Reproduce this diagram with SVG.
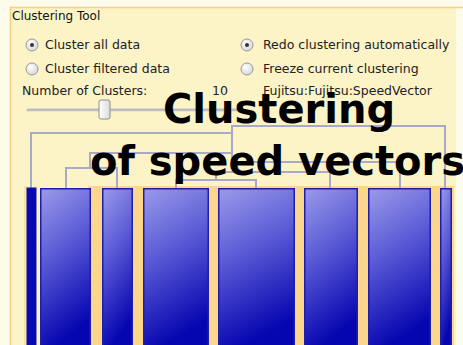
<svg xmlns="http://www.w3.org/2000/svg" width="463" height="345" viewBox="0 0 463 345">
  <defs>
    <linearGradient id="barGrad" x1="0" y1="0" x2="0.25" y2="1">
      <stop offset="0" stop-color="#9a9aea"/>
      <stop offset="0.45" stop-color="#5a5ad6"/>
      <stop offset="1" stop-color="#0606b0"/>
    </linearGradient>
    <radialGradient id="radioGrad" cx="0.4" cy="0.35" r="0.7">
      <stop offset="0" stop-color="#ffffff"/>
      <stop offset="1" stop-color="#d4d4d4"/>
    </radialGradient>
    <linearGradient id="thumbGrad" x1="0" y1="0" x2="1" y2="0">
      <stop offset="0" stop-color="#ffffff"/>
      <stop offset="1" stop-color="#dcdcdc"/>
    </linearGradient>
    <style>
      .ui { font-family: "DejaVu Sans", Verdana, sans-serif; font-size: 12.5px; fill: #222; }
      .title { font-family: "DejaVu Sans", Verdana, sans-serif; font-size: 12px; fill: #111; }
      .big { font-family: "DejaVu Sans", Verdana, sans-serif; font-size: 40px; font-weight: bold; fill: #000; }
      .radio { fill: url(#radioGrad); stroke: #9a9a9a; stroke-width: 1; }
      .dot { fill: #333; }
      .bar { fill: url(#barGrad); stroke: #1e1ea8; stroke-width: 1.5; }
      .link { fill: none; stroke: #a9a9c8; stroke-width: 2; }
    </style>
  </defs>

  <!-- background / panel -->
  <rect x="0" y="0" width="463" height="345" fill="#fffbea"/>
  <rect x="10" y="7" width="446" height="338" fill="#fcf3c7"/>
  <line x1="10" y1="7.5" x2="463" y2="7.5" stroke="#f2cf86" stroke-width="1.5"/>
  <line x1="10.5" y1="7" x2="10.5" y2="345" stroke="#f2cf86" stroke-width="1.5"/>
  <rect x="88" y="186" width="366" height="159" fill="#fdd68e"/>
  <rect x="24" y="186" width="4" height="159" fill="#fbe2a8"/>

  <g id="title"><text class="title" x="12" y="20">Clustering Tool</text></g>

  <g id="opt-all">
    <circle class="radio" cx="32" cy="45" r="6"/>
    <circle class="dot" cx="32" cy="45" r="2"/>
    <text class="ui" x="45" y="49">Cluster all data</text>
  </g>
  <g id="opt-filtered">
    <circle class="radio" cx="32" cy="69" r="6"/>
    <text class="ui" x="45" y="73">Cluster filtered data</text>
  </g>
  <g id="opt-redo">
    <circle class="radio" cx="247" cy="45" r="6"/>
    <circle class="dot" cx="247" cy="45" r="2"/>
    <text class="ui" x="263" y="49">Redo clustering automatically</text>
  </g>
  <g id="opt-freeze">
    <circle class="radio" cx="247" cy="69" r="6"/>
    <text class="ui" x="263" y="73">Freeze current clustering</text>
  </g>
  <g id="num-clusters">
    <text class="ui" x="22" y="95">Number of Clusters:</text>
    <text class="ui" x="212" y="95">10</text>
  </g>
  <g id="source"><text class="ui" x="263" y="95">Fujitsu:Fujitsu:SpeedVector</text></g>

  <g id="slider">
    <line x1="28" y1="110" x2="240" y2="110" stroke="#bdbdbd" stroke-width="3" stroke-linecap="round"/>
    <line x1="28" y1="111.5" x2="240" y2="111.5" stroke="#e6e6e6" stroke-width="1"/>
    <rect x="99" y="100" width="11" height="19" rx="2" fill="url(#thumbGrad)" stroke="#8e8e8e" stroke-width="1"/>
  </g>

  <g id="connectors">
    <path class="link" d="M31,188 V133 H232"/>
    <path class="link" d="M232,162 V126 H445 V188"/>
    <path class="link" d="M66,188 V168 H117 V188"/>
    <path class="link" d="M90,168 V153 H232"/>
    <path class="link" d="M176,188 V180 H256 V188"/>
    <path class="link" d="M216,180 V172 H330 V188"/>
    <path class="link" d="M232,162 H400 V188"/>
  </g>

  <g id="bar1"><rect x="27" y="188" width="9" height="160" fill="#0808b4" stroke="#1010a0" stroke-width="1"/></g>
  <g id="bar2"><rect class="bar" x="40.75" y="188.75" width="49.5" height="160"/></g>
  <g id="bar3"><rect class="bar" x="102.75" y="188.75" width="29.5" height="160"/></g>
  <g id="bar4"><rect class="bar" x="143.75" y="188.75" width="64.5" height="160"/></g>
  <g id="bar5"><rect class="bar" x="218.75" y="188.75" width="75.5" height="160"/></g>
  <g id="bar6"><rect class="bar" x="304.75" y="188.75" width="52.5" height="160"/></g>
  <g id="bar7"><rect class="bar" x="368.75" y="188.75" width="61.5" height="160"/></g>
  <g id="bar8"><rect class="bar" x="440.75" y="188.75" width="10.5" height="160"/></g>

  <g id="caption">
    <text class="big" x="163" y="123">Clustering</text>
    <text class="big" x="90" y="175">of speed vectors</text>
  </g>
</svg>
